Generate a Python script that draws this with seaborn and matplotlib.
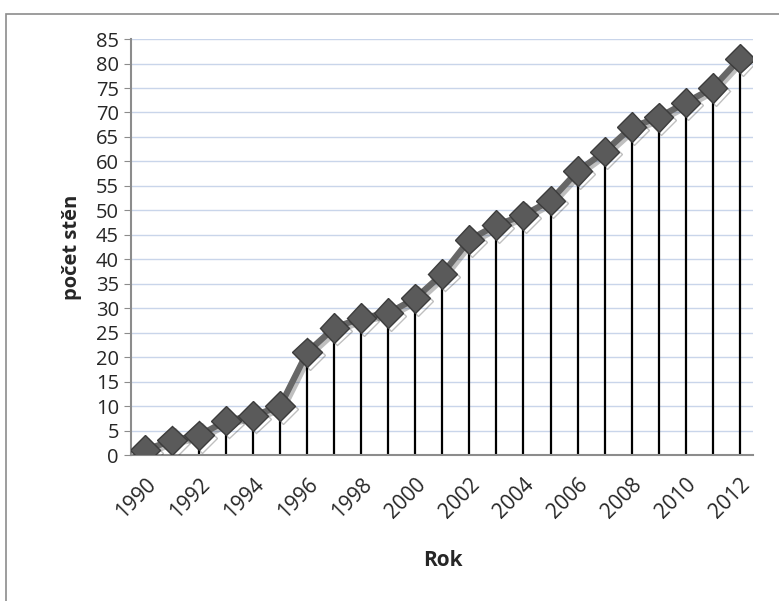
import numpy as np
import pandas as pd
import seaborn as sns
import matplotlib.pyplot as plt
import matplotlib.patheffects as pe
from matplotlib.patches import Rectangle

# pocet sten podle roku
roky = [1990, 1991, 1992, 1993, 1994, 1995, 1996, 1997, 1998, 1999, 2000, 2001,
        2002, 2003, 2004, 2005, 2006, 2007, 2008, 2009, 2010, 2011, 2012]
steny = [1, 3, 4, 7, 8, 10, 21, 26, 28, 29, 32, 37,
         44, 47, 49, 52, 58, 62, 67, 69, 72, 75, 81]
yticks = list(range(0, 86, 5))

df = pd.DataFrame({'rok': roky, 'steny': steny})
df['pos'] = np.arange(len(df))

sns.set_style('white')
plt.rcParams['font.family'] = ['Open Sans', 'DejaVu Sans']

fig = plt.figure(figsize=(7.79, 6.01), dpi=100)
ax = fig.add_axes([0.1688, 0.2429, 0.7982, 0.6921])

# ramecek kolem grafu
fig.patches.append(Rectangle((6 / 779, -0.1), 1.2, 1.1 - 14 / 601,
                             transform=fig.transFigure, fill=False,
                             edgecolor='#8c8c8c', linewidth=1.2))

ax.vlines(df['pos'], 0, df['steny'], color='black', linewidth=1.6, zorder=2)

sns.lineplot(data=df, x='pos', y='steny', ax=ax, color='#666666',
             linewidth=4.5, marker='D', markersize=15,
             markerfacecolor='#5a5a5a', markeredgecolor='#3c3c3c',
             markeredgewidth=1, zorder=3,
             path_effects=[pe.SimpleLineShadow(offset=(2, -2), alpha=0.25),
                           pe.Normal()])

ax.set_xlim(-0.5, len(df) - 0.5)
ax.set_ylim(0, 85)
ax.set_yticks(yticks)
ax.set_xticks(df['pos'][::2])
ax.set_xticklabels(df['rok'][::2], rotation=45, ha='right',
                   rotation_mode='anchor')
ax.tick_params(axis='y', labelsize=14.5, length=5, color='#8c8c8c',
               direction='out', left=True, pad=4)
ax.tick_params(axis='x', labelsize=15, bottom=False, pad=10)

ax.grid(axis='y', color='#c9d5ea', linewidth=1)
ax.set_axisbelow(True)
for s in ['top', 'right']:
    ax.spines[s].set_visible(False)
for s in ['left', 'bottom']:
    ax.spines[s].set_color('#8c8c8c')
    ax.spines[s].set_linewidth(1.5)

ax.set_xlabel('Rok', fontsize=15, fontweight='bold', labelpad=20)
ax.set_ylabel('počet stěn', fontsize=14.5, fontweight='bold', labelpad=10)

fig.savefig('out.png', dpi=100)
